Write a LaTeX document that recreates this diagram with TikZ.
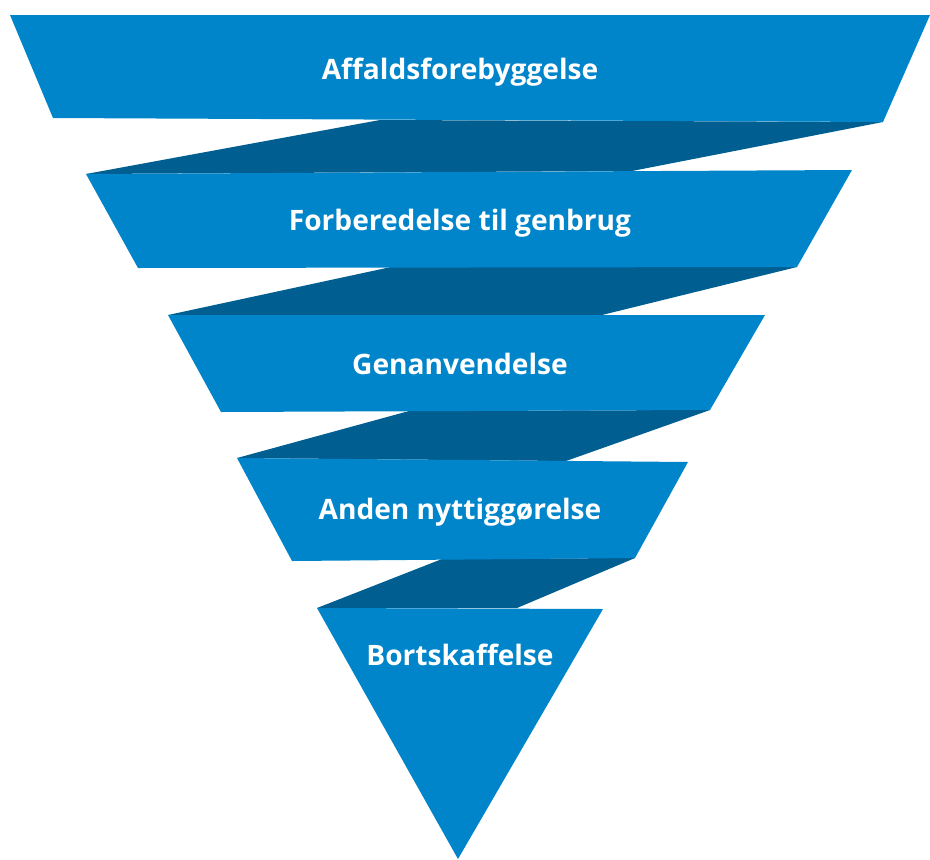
\documentclass[tikz,border=0pt]{standalone}
\usepackage{fontspec}
\setmainfont{Open Sans}
\usepackage{xcolor}
\definecolor{hierblue}{RGB}{0,133,202}
\definecolor{hierdark}{RGB}{0,94,145}
\usetikzlibrary{positioning}

\tikzset{
  steplabel/.style={font=\fontsize{16}{19}\selectfont\bfseries, text=white, anchor=base}
}

\begin{document}
\begin{tikzpicture}[x=0.02cm, y=-0.02cm]

  \useasboundingbox (0,0) rectangle (930,859);

  %% ===== FOLDS (dark back sides) =====
  \fill[hierdark] (380,120) -- (883,122) -- (632,171) -- (86,174) -- cycle;
  \fill[hierdark] (391,267) -- (797,267) -- (602,315) -- (168,315) -- cycle;
  \fill[hierdark] (409,411) -- (710,410) -- (566,461) -- (237,458) -- cycle;
  \fill[hierdark] (442,559) -- (635,558) -- (517,608) -- (317,608) -- cycle;

  %% ===== BANDS (front sides) =====
  \fill[hierblue] (10,15) -- (930,15) -- (883,122) -- (53,118) -- cycle;
  \fill[hierblue] (86,174) -- (852,170) -- (797,267) -- (138,268) -- cycle;
  \fill[hierblue] (168,315) -- (765,315) -- (710,410) -- (221,412) -- cycle;
  \fill[hierblue] (237,458) -- (688,462) -- (635,558) -- (292,561) -- cycle;
  \fill[hierblue] (317,608) -- (603,609) -- (458,859) -- cycle;

  % Labels
  \node[steplabel] (prevent) at (460,79)  {Affaldsforebyggelse};
  \node[steplabel] (reuse)   at (460,230) {Forberedelse til genbrug};
  \node[steplabel] (recycle) at (460,374) {Genanvendelse};
  \node[steplabel] (recover) at (460,519) {Anden nyttiggørelse};
  \node[steplabel] (dispose) at (460,665) {Bortskaffelse};

\end{tikzpicture}
\end{document}
